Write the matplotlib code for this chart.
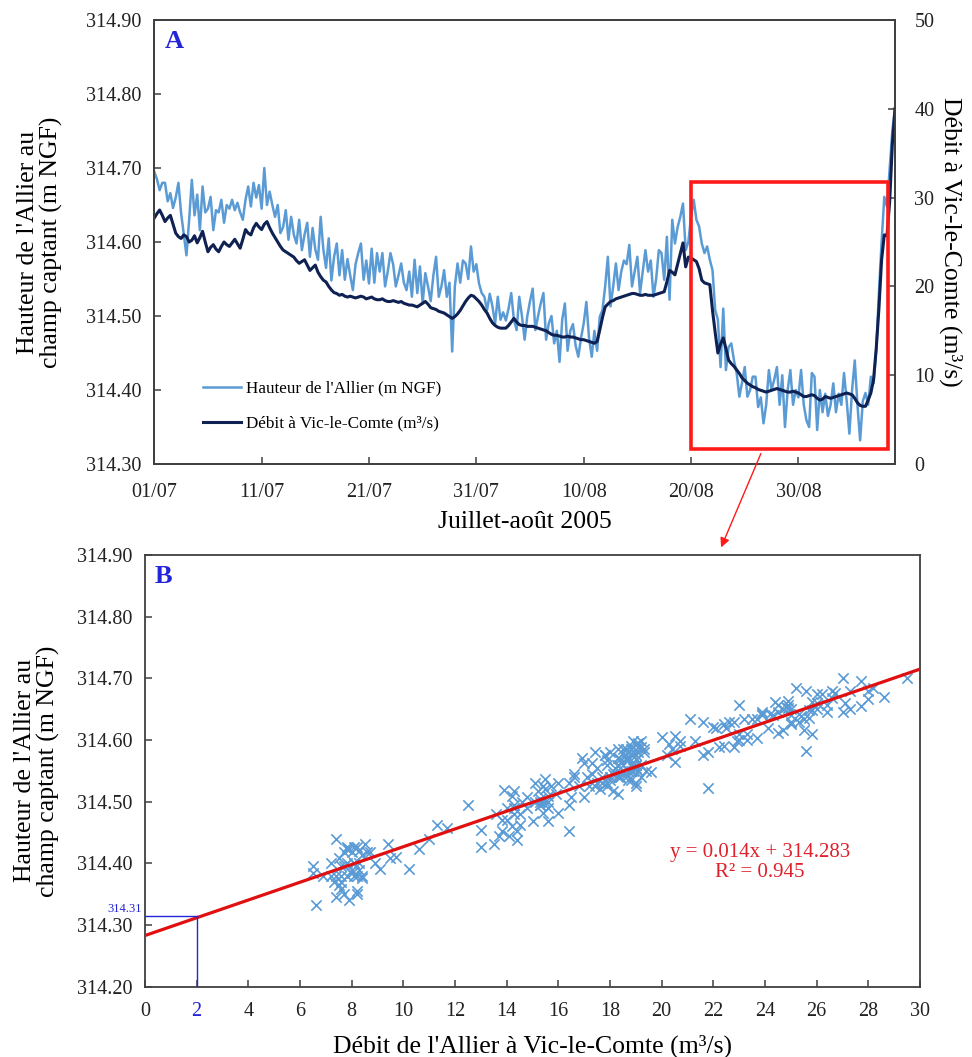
import numpy as np
import matplotlib
matplotlib.use('Agg')
import matplotlib.pyplot as plt
from matplotlib.patches import Rectangle, FancyArrowPatch
from matplotlib.ticker import FormatStrFormatter

plt.rcParams['font.family'] = ['Liberation Serif', 'DejaVu Serif']

# ---------------- data (6-hourly samples starting 01/07/2005 00:00) ----------------
step_days = 0.25

hauteur = [
    314.695, 314.685, 314.670, 314.680,
    314.680, 314.655, 314.666, 314.646,
    314.660, 314.680, 314.639, 314.610,
    314.582, 314.630, 314.684, 314.636,
    314.664, 314.616, 314.675, 314.640,
    314.645, 314.661, 314.616, 314.643,
    314.640, 314.657, 314.626, 314.650,
    314.645, 314.657, 314.643, 314.653,
    314.640, 314.630, 314.657, 314.675,
    314.648, 314.680, 314.660, 314.677,
    314.645, 314.700, 314.650, 314.668,
    314.650, 314.634, 314.650, 314.612,
    314.620, 314.643, 314.603, 314.634,
    314.610, 314.598, 314.630, 314.589,
    314.610, 314.626, 314.580, 314.619,
    314.590, 314.576, 314.634, 314.590,
    314.565, 314.605, 314.548, 314.580,
    314.598, 314.555, 314.589, 314.549,
    314.577, 314.555, 314.535, 314.570,
    314.585, 314.598, 314.549, 314.575,
    314.544, 314.591, 314.545, 314.585,
    314.560, 314.585, 314.540, 314.560,
    314.585, 314.570, 314.540, 314.555,
    314.571, 314.545, 314.535, 314.560,
    314.526, 314.576, 314.531, 314.567,
    314.517, 314.558, 314.540, 314.520,
    314.555, 314.580, 314.526, 314.540,
    314.562, 314.526, 314.545, 314.452,
    314.540, 314.571, 314.545, 314.575,
    314.571, 314.550, 314.594, 314.560,
    314.570, 314.544, 314.531, 314.526,
    314.508, 314.530, 314.513, 314.490,
    314.526, 314.495, 314.505, 314.494,
    314.510, 314.531, 314.495, 314.481,
    314.526, 314.500, 314.468, 314.500,
    314.520, 314.537, 314.481, 314.500,
    314.517, 314.531, 314.468, 314.490,
    314.500, 314.463, 314.480, 314.438,
    314.495, 314.517, 314.453, 314.480,
    314.489, 314.460, 314.445, 314.470,
    314.490, 314.519, 314.470, 314.445,
    314.480, 314.453, 314.499, 314.508,
    314.540, 314.580, 314.513, 314.540,
    314.571, 314.535, 314.560, 314.575,
    314.570, 314.596, 314.540, 314.560,
    314.580, 314.531, 314.560, 314.589,
    314.560, 314.575, 314.526, 314.550,
    314.589, 314.585, 314.549, 314.607,
    314.522, 314.630, 314.598, 314.620,
    314.634, 314.652, 314.589, 314.600,
    314.634, 314.657, 314.630, 314.621,
    314.598, 314.585, 314.594, 314.576,
    314.562, 314.508, 314.495, 314.431,
    314.510, 314.427, 314.458, 314.463,
    314.440, 314.423, 314.391, 314.410,
    314.431, 314.391, 314.400, 314.418,
    314.418, 314.377, 314.390, 314.355,
    314.380, 314.427, 314.400, 314.414,
    314.431, 314.380, 314.420, 314.350,
    314.400, 314.427, 314.380, 314.400,
    314.390, 314.427, 314.380, 314.359,
    314.350, 314.423, 314.418, 314.346,
    314.400, 314.370, 314.395, 314.365,
    314.380, 314.409, 314.370, 314.395,
    314.380, 314.423, 314.385, 314.341,
    314.400, 314.440, 314.380, 314.332,
    314.385, 314.396, 314.380, 314.418,
    314.409, 314.454, 314.531, 314.600,
    314.661, 314.648, 314.700, 314.750,
    314.781,
]

debit = [
    27.7, 28.2, 28.6, 28.0,
    27.3, 27.7, 28.0, 27.0,
    26.0, 25.6, 25.4, 25.8,
    25.6, 25.0, 25.2, 25.7,
    24.9, 25.5, 26.2, 25.0,
    23.9, 24.4, 24.7, 24.2,
    23.9, 24.5, 25.0, 24.7,
    24.5, 24.9, 25.3, 24.8,
    24.3, 25.3, 26.4, 26.0,
    25.8, 26.6, 27.1, 26.7,
    26.4, 27.0, 27.3, 26.6,
    26.0, 25.5, 25.0, 24.5,
    24.1, 23.9, 23.7, 23.5,
    23.3, 22.9, 22.6, 22.8,
    23.0, 22.4, 21.8, 22.1,
    22.4, 21.6, 21.1, 20.7,
    20.5, 20.0, 19.6, 19.3,
    19.2, 19.0, 19.1, 18.9,
    18.8, 18.9, 18.8, 18.7,
    18.8, 18.9, 18.8, 18.6,
    18.7, 18.8, 18.6, 18.5,
    18.5, 18.6, 18.4, 18.3,
    18.3, 18.4, 18.3, 18.2,
    18.3, 18.1, 18.0, 17.9,
    17.9, 17.8, 17.7, 17.9,
    18.1, 18.3, 18.0, 17.6,
    17.5, 17.4, 17.2, 17.1,
    17.0, 16.8, 16.6, 16.4,
    16.6, 16.9, 17.3, 17.8,
    18.3, 18.7, 19.0, 18.9,
    18.6, 18.3, 17.9, 17.4,
    17.0, 16.4, 15.9, 15.6,
    15.4, 15.3, 15.3, 15.3,
    15.6, 16.0, 16.4, 16.0,
    15.7, 15.6, 15.6, 15.5,
    15.5, 15.5, 15.4, 15.3,
    15.2, 15.1, 15.0, 14.8,
    14.6, 14.5, 14.5, 14.4,
    14.3, 14.3, 14.4, 14.3,
    14.3, 14.2, 14.1, 14.0,
    14.0, 13.9, 13.8, 13.7,
    13.6, 13.8, 15.1, 16.5,
    17.7, 18.0, 18.3, 18.4,
    18.6, 18.7, 18.8, 18.9,
    19.0, 19.1, 19.2, 19.2,
    19.1, 19.0, 19.0, 19.1,
    19.0, 19.0, 19.0, 19.1,
    19.2, 19.3, 19.4, 20.5,
    21.8, 21.6, 21.3, 22.5,
    23.7, 24.9, 22.2, 23.3,
    23.2, 23.0, 22.8, 22.0,
    20.7, 20.4, 20.3, 20.2,
    17.3, 14.8, 12.5, 13.5,
    14.2, 13.0, 11.7, 11.3,
    11.0, 10.6, 10.2, 9.7,
    9.4, 9.1, 8.9, 8.7,
    8.6, 8.4, 8.3, 8.2,
    8.1, 8.2, 8.3, 8.4,
    8.5, 8.4, 8.3, 8.2,
    8.1, 8.1, 8.2, 8.1,
    8.0, 7.8, 7.6, 7.6,
    7.7, 7.8, 7.7, 7.4,
    7.2, 7.3, 7.6, 7.5,
    7.4, 7.5, 7.6, 7.7,
    7.8, 7.9, 8.0, 7.9,
    7.8, 7.4, 6.9, 6.6,
    6.5, 6.5, 7.2, 8.0,
    9.5, 13.0, 17.5, 23.0,
    25.8, 25.7, 29.5, 36.0,
    40.0,
]

date_tick_days = [0, 10, 20, 30, 40, 50, 60]
date_tick_labels = ['01/07', '11/07', '21/07', '31/07', '10/08', '20/08', '30/08']

reg_slope = 0.0144
reg_intercept = 314.283
eq_text = "y = 0.014x + 314.283"
r2_text = "R² = 0.945"
q_ref = 2
h_ref = 314.315
h_ref_label = "314.31"

# zoom window of panel B shown in panel A (days, m3/s)
zoom_days = (50.0, 68.3)
zoom_debit = (1.7, 31.7)

# ---------------- styling ----------------
c_light = '#5B9BD5'
c_dark = '#0E2152'
c_red = '#FF1A1A'
c_blue = '#2424D8'
c_spine = '#404040'
tick_fs = 14.5
lab_fs = 18.5

fig = plt.figure(figsize=(9.72, 10.57), dpi=100)

def style_axes(ax):
    for s in ax.spines.values():
        s.set_color(c_spine)
        s.set_linewidth(1.3)
    ax.tick_params(direction='in', length=5, width=1.1, colors=c_spine,
                   labelcolor='#222222', labelsize=tick_fs)

# ---------------- Panel A ----------------
t = np.arange(len(hauteur)) * step_days
axA = fig.add_axes([0.1587, 0.561, 0.7621, 0.4201])
axA2 = axA.twinx()
l1, = axA.plot(t, hauteur, color=c_light, lw=1.8)
l2, = axA2.plot(t, debit, color=c_dark, lw=2.2)
axA.set_xlim(0, 69)
axA.set_ylim(314.30, 314.90)
axA2.set_ylim(0, 50)
axA.set_yticks(np.arange(314.30, 314.901, 0.1))
axA.yaxis.set_major_formatter(FormatStrFormatter('%.2f'))
axA2.set_yticks(np.arange(0, 51, 10))
axA.set_xticks(date_tick_days)
axA.set_xticklabels(date_tick_labels)
style_axes(axA)
style_axes(axA2)
axA.tick_params(axis='x', pad=14)
axA2.tick_params(axis='y', pad=14)
axA.tick_params(axis='y', pad=9)
axA.set_xlabel('Juillet-août 2005', fontsize=lab_fs, labelpad=6)
axA.set_ylabel("Hauteur de l'Allier au\nchamp captant (m NGF)", fontsize=lab_fs, labelpad=17,
               linespacing=1.05)
axA2.set_ylabel('Débit à Vic-le-Comte (m³/s)', fontsize=lab_fs, rotation=270, labelpad=20)
axA.text(0.014, 0.978, 'A', transform=axA.transAxes, fontsize=19, fontweight='bold',
         color=c_blue, ha='left', va='top')
axA.legend([l1, l2], ["Hauteur de l'Allier (m NGF)", 'Débit à Vic-le-Comte (m³/s)'],
           loc='upper left', bbox_to_anchor=(0.045, 0.222), frameon=False, fontsize=12.3,
           handlelength=2.2, labelspacing=1.1, handletextpad=0.3)
axA2.add_patch(Rectangle((zoom_days[0], zoom_debit[0]), zoom_days[1] - zoom_days[0],
                         zoom_debit[1] - zoom_debit[0], fill=False, ec=c_red, lw=2.6, zorder=5))

# arrow from rectangle to panel B
fig.add_artist(FancyArrowPatch(posA=(762 / 972, 1 - 451 / 1057), posB=(720 / 972, 1 - 550 / 1057),
                               transform=fig.transFigure, arrowstyle='-|>', mutation_scale=14,
                               color=c_red, lw=1.0))

# ---------------- Panel B ----------------
axB = fig.add_axes([0.1492, 0.0665, 0.7973, 0.4084])
axB.scatter(debit, hauteur, marker='x', s=55, color=c_light, linewidths=1.2, zorder=2)
xline = np.array([0, 30])
axB.plot(xline, reg_intercept + reg_slope * xline, color='#E01010', lw=2.3, zorder=3)
axB.plot([0, q_ref], [h_ref, h_ref], color=c_blue, lw=1.0, zorder=4)
axB.plot([q_ref, q_ref], [314.20, h_ref], color=c_blue, lw=1.0, zorder=4)
axB.text(-0.12, h_ref + 0.002, h_ref_label, color=c_blue, fontsize=9, ha='right', va='bottom',
         clip_on=False)
axB.set_xlim(0, 30)
axB.set_ylim(314.20, 314.90)
axB.set_xticks(np.arange(0, 31, 2))
axB.set_yticks(np.arange(314.20, 314.901, 0.1))
axB.yaxis.set_major_formatter(FormatStrFormatter('%.2f'))
style_axes(axB)
axB.tick_params(axis='x', pad=11)
axB.tick_params(axis='y', pad=9)
for lab in axB.get_xticklabels():
    if lab.get_text() == str(q_ref):
        lab.set_color(c_blue)
axB.set_xlabel("Débit de l'Allier à Vic-le-Comte (m³/s)", fontsize=lab_fs, labelpad=10)
axB.set_ylabel("Hauteur de l'Allier au\nchamp captant (m NGF)", fontsize=lab_fs, labelpad=12,
               linespacing=1.05)
axB.text(0.013, 0.977, 'B', transform=axB.transAxes, fontsize=19, fontweight='bold',
         color=c_blue, ha='left', va='top')
axB.text(23.8, 314.418, eq_text, color='#E0202A', fontsize=15, ha='center', va='center')
axB.text(23.8, 314.386, r2_text, color='#E0202A', fontsize=15, ha='center', va='center')

fig.savefig('out.png', dpi=100)
